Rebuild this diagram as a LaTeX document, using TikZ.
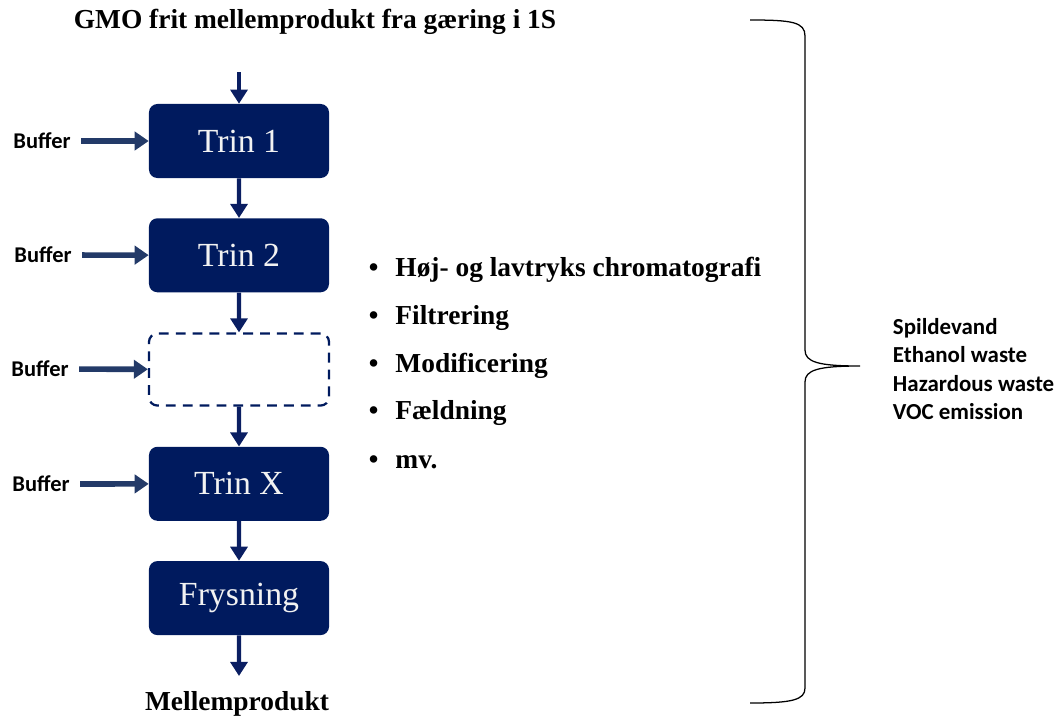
\documentclass[tikz,border=0pt]{standalone}
\usepackage{fontspec}
\setmainfont{Liberation Serif}
\newfontfamily\calib{Carlito}
\usetikzlibrary{arrows.meta}

\definecolor{boxnavy}{RGB}{0,26,94}
\definecolor{flownavy}{RGB}{10,30,98}
\definecolor{buffnavy}{RGB}{35,58,104}

\begin{document}
\begin{tikzpicture}
[
    x=0.025cm, y=-0.025cm,
    level/.style={level distance=2.856cm},
    trinbox/.style={rectangle, rounded corners=6pt, fill=boxnavy, text=white!95!black,
        minimum width=4.5cm, minimum height=1.85cm, font=\fontsize{24}{28}\selectfont},
    emptybox/.style={rectangle, rounded corners=6pt, draw=boxnavy, dashed, line width=1.6pt,
        dash pattern=on 7pt off 5pt, minimum width=4.5cm, minimum height=1.8cm},
    edge from parent/.style={draw=flownavy, line width=3pt,
        -{Triangle[width=12pt, length=10pt]}},
    flowarrow/.style={draw=flownavy, line width=3pt, -{Triangle[width=12pt, length=10pt]}},
    bufferarrow/.style={draw=buffnavy, line width=4pt, shorten <=4pt,
        -{Triangle[width=13pt, length=10pt]}},
    buffertext/.style={font=\calib\bfseries\fontsize{16}{18}\selectfont},
    headtext/.style={font=\bfseries\fontsize{19.5}{22}\selectfont},
    stepitem/.style={anchor=west, font=\bfseries\fontsize{19.5}{22}\selectfont},
    wastetext/.style={anchor=west, align=left, font=\calib\bfseries\fontsize{16.3}{20}\selectfont},
]
\useasboundingbox (0,0) rectangle (1057,717);

% process chain
\node [trinbox] (trin1) at (239,141) {Trin 1}
    child {node [trinbox] (trin2) {Trin 2}
    child {node [emptybox] (trinn) {}
    child {node [trinbox] (trinx) {Trin X}
    child {node [trinbox] (frys) {Frysning}
}}}};

% in and out
\node [headtext] (gmo) at (315,22) {GMO frit mellemprodukt fra gæring i 1S};
\node [headtext] (mellem) at (237,704) {Mellemprodukt};
\coordinate (gmoin) at (239,72);
\coordinate (mpout) at (239,676);
\draw [flowarrow] (gmoin) -- (trin1);
\draw [flowarrow] (frys) -- (mpout);

% buffers
\node [buffertext] (buf1) at (42,141) {Buffer};
\node [buffertext] (buf2) at (43,255) {Buffer};
\node [buffertext] (buf3) at (40,369) {Buffer};
\node [buffertext] (buf4) at (41,484) {Buffer};
\draw [bufferarrow] (buf1) -- (trin1);
\draw [bufferarrow] (buf2) -- (trin2);
\draw [bufferarrow] (buf3) -- (trinn);
\draw [bufferarrow] (buf4) -- (trinx);

% methods
\node [stepitem] (m1) at (364,270) {\textbullet\hspace{12pt}Høj- og lavtryks chromatografi};
\node [stepitem] (m2) at (364,318) {\textbullet\hspace{12pt}Filtrering};
\node [stepitem] (m3) at (364,366) {\textbullet\hspace{12pt}Modificering};
\node [stepitem] (m4) at (364,413) {\textbullet\hspace{12pt}Fældning};
\node [stepitem] (m5) at (364,462) {\textbullet\hspace{12pt}mv.};

% brace and waste
\draw [line width=0.9pt] (750,20) .. controls (792,20) and (805,22) .. (805,36)
    -- (805,350) .. controls (805,362) and (818,366) .. (860,366)
    .. controls (818,366) and (805,370) .. (805,382)
    -- (805,688) .. controls (805,700) and (792,703) .. (750,703);
\node [wastetext] (waste) at (888,369) {Spildevand\\Ethanol waste\\Hazardous waste\\VOC emission};
\end{tikzpicture}
\end{document}
